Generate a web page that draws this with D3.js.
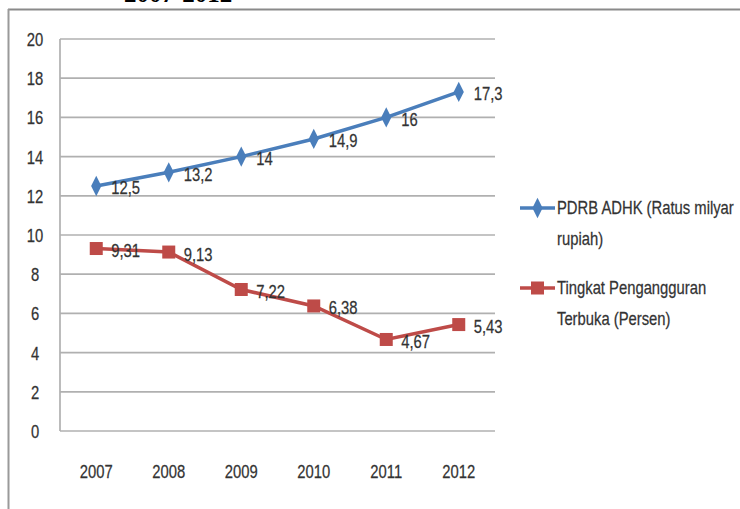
<!DOCTYPE html>
<html>
<head>
<meta charset="utf-8">
<script src="https://cdn.jsdelivr.net/npm/d3@7"></script>
<style>
  html, body { margin: 0; padding: 0; background: #fff; }
  svg { display: block; }
  .lbl { font-family: "Liberation Sans", Arial, sans-serif; fill: #333; stroke: #333; stroke-width: 0.25; }
</style>
</head>
<body>
<svg id="chart" width="740" height="509"></svg>
<script>
// Years on the horizontal axis
const years = ["2007", "2008", "2009", "2010", "2011", "2012"];
// PDRB ADHK (hundreds of billions of rupiah)
const pdrb = [12.5, 13.2, 14, 14.9, 16, 17.3];
// Open unemployment rate (percent)
const unemployment = [9.31, 9.13, 7.22, 6.38, 4.67, 5.43];
// Value axis ticks
const yTicks = [0, 2, 4, 6, 8, 10, 12, 14, 16, 18, 20];
// Series names shown in the legend (each split over two lines)
const seriesNames = [
  ["PDRB ADHK (Ratus milyar", "rupiah)"],
  ["Tingkat Pengangguran", "Terbuka (Persen)"]
];
const titleText = "2007-2012";

const svg = d3.select("#chart");
const W = 740, H = 509;
const plot = { left: 60, right: 495, top: 39, bottom: 431 };
const blue = "#4a7ebb", red = "#be4b48";
const fmt = v => String(v).replace(".", ",");
const FS = 18.5;     // label font size
const NARROW = 0.8;  // horizontal condensing of the label font

// Frame around the chart
svg.append("line").attr("x1", 8).attr("x2", W).attr("y1", 9.5).attr("y2", 9.5)
  .attr("stroke", "#8a8a8a").attr("stroke-width", 2);
svg.append("line").attr("x1", 8.5).attr("x2", 8.5).attr("y1", 9).attr("y2", H)
  .attr("stroke", "#9a9a9a").attr("stroke-width", 2);

// Title, mostly above the visible area
svg.append("text").attr("x", 124).attr("y", 2)
  .attr("font-family", "Liberation Serif, serif").attr("font-weight", "bold")
  .attr("font-size", 25).attr("fill", "#000").text(titleText);

const x = d3.scaleBand().domain(years).range([plot.left, plot.right]);
const cx = d => x(d) + x.bandwidth() / 2;
const y = d3.scaleLinear().domain([0, 20]).range([plot.bottom, plot.top]);

// Horizontal gridlines
svg.append("g").selectAll("line").data(yTicks).join("line")
  .attr("x1", plot.left).attr("x2", plot.right)
  .attr("y1", d => y(d)).attr("y2", d => y(d))
  .attr("stroke", "#b0b0b0").attr("stroke-width", 1.7);

// Vertical axis line
svg.append("line").attr("x1", plot.left).attr("x2", plot.left)
  .attr("y1", y(20)).attr("y2", y(0))
  .attr("stroke", "#b0b0b0").attr("stroke-width", 1.7);

// Value axis labels
const yAxis = d3.axisLeft(y).tickValues(yTicks).tickSize(0).tickPadding(0).tickFormat(d => d);
const yg = svg.append("g").attr("transform", `translate(${plot.left - 19},0)`).call(yAxis);
yg.select(".domain").remove();
yg.selectAll("text").attr("class", "lbl").attr("font-size", FS)
  .attr("text-anchor", "middle").attr("dy", "0.35em").attr("x", -6);

// Category axis labels
const xAxis = d3.axisBottom(x).tickSize(0).tickPadding(0);
const xg = svg.append("g").attr("transform", `translate(0,${plot.bottom + 41})`).call(xAxis);
xg.select(".domain").remove();
xg.selectAll("text").attr("class", "lbl").attr("font-size", FS).attr("dy", "0.35em");

const line = d3.line().x(d => cx(d.year)).y(d => y(d.v));
const pdrbData = years.map((yr, i) => ({ year: yr, v: pdrb[i] }));
const unData = years.map((yr, i) => ({ year: yr, v: unemployment[i] }));

const diamond = d3.symbol().type(d3.symbolDiamond).size(90);

// PDRB series
svg.append("path").datum(pdrbData).attr("d", line)
  .attr("fill", "none").attr("stroke", blue).attr("stroke-width", 3.5);
svg.append("g").selectAll("path").data(pdrbData).join("path")
  .attr("d", diamond).attr("transform", d => `translate(${cx(d.year)},${y(d.v)}) scale(1,1.15)`)
  .attr("fill", blue);

// Unemployment series
svg.append("path").datum(unData).attr("d", line)
  .attr("fill", "none").attr("stroke", red).attr("stroke-width", 3.5);
svg.append("g").selectAll("rect").data(unData).join("rect")
  .attr("x", d => cx(d.year) - 6.5).attr("y", d => y(d.v) - 6.5)
  .attr("width", 13).attr("height", 13).attr("fill", red);

// Data labels to the right of each point
function labels(data) {
  svg.append("g").selectAll("text").data(data).join("text")
    .attr("class", "lbl").attr("font-size", FS)
    .attr("x", d => cx(d.year) + 15).attr("y", d => y(d.v) + 2)
    .attr("dy", "0.35em").text(d => fmt(d.v));
}
labels(pdrbData);
labels(unData);

// Legend
const legend = svg.append("g");
const legendRows = [
  { y: 208, color: blue, kind: "diamond", names: seriesNames[0] },
  { y: 288, color: red, kind: "square", names: seriesNames[1] }
];
legendRows.forEach(r => {
  legend.append("line").attr("x1", 520).attr("x2", 555).attr("y1", r.y).attr("y2", r.y)
    .attr("stroke", r.color).attr("stroke-width", 3.5);
  if (r.kind === "diamond") {
    legend.append("path").attr("d", diamond)
      .attr("transform", `translate(537.5,${r.y}) scale(1,1.15)`).attr("fill", r.color);
  } else {
    legend.append("rect").attr("x", 531).attr("y", r.y - 6.5)
      .attr("width", 13).attr("height", 13).attr("fill", r.color);
  }
  r.names.forEach((t, i) => {
    legend.append("text").attr("class", "lbl").attr("font-size", FS)
      .attr("x", 557).attr("y", r.y + i * 31).attr("dy", "0.35em").text(t);
  });
});

// Condense every label horizontally around its own anchor point
svg.selectAll("text.lbl").each(function () {
  const ax = +this.getAttribute("x") || 0;
  d3.select(this).attr("transform", `translate(${ax * (1 - NARROW)},0) scale(${NARROW},1)`);
});
</script>
</body>
</html>
